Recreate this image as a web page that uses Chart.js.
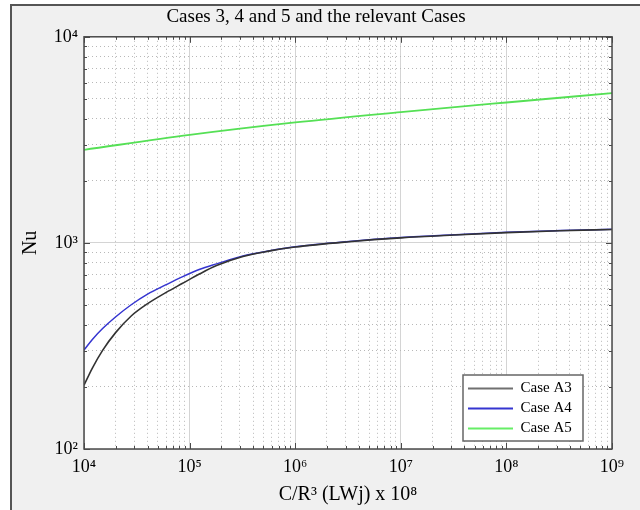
<!DOCTYPE html>
<html>
<head>
<meta charset="utf-8">
<script src="https://cdn.jsdelivr.net/npm/chart.js@4/dist/chart.umd.min.js"></script>
<style>
  body { margin: 0; background: #fff; }
</style>
</head>
<body>
<canvas id="nuChart" width="640" height="510"></canvas>
<script>
// x positions (C/R^3) shared by cases A3 and A4
const xA = [1e4, 1.2e4, 1.5e4, 2e4, 2.8e4, 4e4, 6e4, 8.5e4, 1.25e5, 1.8e5, 3.2e5, 5.6e5, 1e6, 3.2e6, 1e7, 3.2e7, 1e8, 3.2e8, 1e9]
const caseA3 = [204, 247, 301, 368, 442, 507, 575, 635, 708, 776, 859, 912, 955, 1013, 1058, 1092, 1122, 1145, 1162]
const caseA4 = [302, 340, 384, 438, 501, 564, 627, 684, 745, 791, 865, 914, 957, 1015, 1061, 1095, 1125, 1147, 1165]
// case A5 is almost straight on log-log axes
const xA5 = [1e4, 1e5, 1e6, 1e7, 1e8, 1e9]
const caseA5 = [2830, 3340, 3840, 4310, 4800, 5330]

const xDecades = [4, 5, 6, 7, 8, 9]
const xTickLabels = ["10⁴", "10⁵", "10⁶", "10⁷", "10⁸", "10⁹"]
const yDecades = [2, 3, 4]
const yTickLabels = ["10²", "10³", "10⁴"]

const FONT = "'Liberation Serif', 'Times New Roman', serif"

const pairs = (xs, ys) => xs.map((x, i) => ({ x: x, y: ys[i] }))

const isDecade = (v) => {
    const l = Math.log10(v)
    return Math.abs(l - Math.round(l)) < 1e-9
}

// 1..9 x 10^n ticks so every minor grid line is drawn
function logTicks(decades) {
    return function (scale) {
        const t = []
        for (let i = 0; i < decades.length - 1; i++) {
            for (let m = 1; m < 10; m++) t.push({ value: m * Math.pow(10, decades[i]) })
        }
        t.push({ value: Math.pow(10, decades[decades.length - 1]) })
        scale.ticks = t
    }
}

function tickLabel(decades, labels) {
    return function (value) {
        if (!isDecade(value)) return ""
        const i = decades.indexOf(Math.round(Math.log10(value)))
        return i >= 0 ? labels[i] : ""
    }
}

const gridColor = (ctx) => (ctx.tick && isDecade(ctx.tick.value) ? "#d4d4d4" : "#b8b8b8")
const gridDash = (ctx) => (ctx.tick && !isDecade(ctx.tick.value) ? [1, 3] : [])

const LEGEND_W = 120
const LEGEND_H = 66

const figure = {
    id: "figure",
    beforeDraw(chart) {
        const c = chart.ctx, a = chart.chartArea
        c.save()
        c.fillStyle = "#f0f0f0"
        c.fillRect(11, 5, chart.width - 11, chart.height - 5)
        c.strokeStyle = "#555"
        c.lineWidth = 2
        c.beginPath()
        c.moveTo(11, chart.height)
        c.lineTo(11, 5)
        c.lineTo(chart.width, 5)
        c.stroke()
        c.fillStyle = "#fff"
        c.fillRect(a.left, a.top, a.right - a.left, a.bottom - a.top)
        c.restore()
    },
    afterLayout(chart) {
        // move the legend box to the lower right corner of the plot
        const a = chart.chartArea, lg = chart.legend
        lg.left = a.right - 149
        lg.top = a.bottom - 73
        lg.right = lg.left + LEGEND_W
        lg.bottom = lg.top + LEGEND_H
        lg.width = LEGEND_W
        lg.height = LEGEND_H
    },
    afterDatasetsDraw(chart) {
        const c = chart.ctx, lg = chart.legend
        c.save()
        c.fillStyle = "#fff"
        c.fillRect(lg.left, lg.top - 1, LEGEND_W, LEGEND_H)
        c.strokeStyle = "#666"
        c.lineWidth = 1.5
        c.strokeRect(lg.left, lg.top - 1, LEGEND_W, LEGEND_H)
        c.restore()
        lg.draw()
    },
    afterDraw(chart) {
        const c = chart.ctx, a = chart.chartArea
        const xs = chart.scales.x, ys = chart.scales.y
        c.save()
        c.strokeStyle = "#4a4a4a"
        c.lineWidth = 1
        // inward tick marks on all four sides
        c.beginPath()
        xs.ticks.forEach((t) => {
            const px = Math.round(xs.getPixelForValue(t.value)) + 0.5
            const len = isDecade(t.value) ? 6 : 3
            c.moveTo(px, a.bottom); c.lineTo(px, a.bottom - len)
            c.moveTo(px, a.top); c.lineTo(px, a.top + len)
        })
        ys.ticks.forEach((t) => {
            const py = Math.round(ys.getPixelForValue(t.value)) + 0.5
            const len = isDecade(t.value) ? 6 : 3
            c.moveTo(a.left, py); c.lineTo(a.left + len, py)
            c.moveTo(a.right, py); c.lineTo(a.right - len, py)
        })
        c.stroke()
        c.lineWidth = 1.5
        c.strokeRect(a.left, a.top, a.right - a.left, a.bottom - a.top)
        c.restore()
    },
}

const data = {
    datasets: [
        {
            label: "Case A3",
            data: pairs(xA, caseA3),
            borderColor: "#333333",
            backgroundColor: "#707070",
            borderWidth: 1.6,
        },
        {
            label: "Case A4",
            data: pairs(xA, caseA4),
            borderColor: "#3535d0",
            backgroundColor: "#3535d0",
            borderWidth: 1.5,
        },
        {
            label: "Case A5",
            data: pairs(xA5, caseA5),
            borderColor: "#55e055",
            backgroundColor: "#66ee66",
            borderWidth: 1.8,
        },
    ],
}

const config = {
    type: "line",
    data: data,
    plugins: [figure],
    options: {
        responsive: false,
        animation: false,
        layout: { padding: { left: 20, right: 28, top: 0, bottom: 0 } },
        elements: {
            point: { radius: 0 },
            line: { cubicInterpolationMode: "monotone" },
        },
        plugins: {
            title: {
                display: true,
                text: "Cases 3, 4 and 5 and the relevant Cases",
                color: "#000",
                font: { family: FONT, size: 19, weight: "normal" },
                padding: { top: 6, bottom: 8 },
            },
            legend: {
                position: "chartArea",
                align: "start",
                labels: {
                    color: "#000",
                    font: { family: FONT, size: 15 },
                    boxWidth: 45,
                    boxHeight: 2,
                    padding: 5,
                    generateLabels: (chart) =>
                        Chart.defaults.plugins.legend.labels.generateLabels(chart).map((l) => ({ ...l, lineWidth: 0 })),
                },
            },
            tooltip: { enabled: false },
        },
        scales: {
            x: {
                type: "logarithmic",
                min: 1e4,
                max: 1e9,
                afterBuildTicks: logTicks(xDecades),
                afterFit: (s) => { s.height = 61 },
                border: { display: false, dash: gridDash },
                grid: { color: gridColor, lineWidth: 1, drawTicks: false },
                ticks: {
                    autoSkip: false,
                    maxRotation: 0,
                    padding: 7,
                    color: "#000",
                    font: { family: FONT, size: 18 },
                    callback: tickLabel(xDecades, xTickLabels),
                },
                title: {
                    display: true,
                    text: "C/R³ (LWj) x 10⁸",
                    color: "#000",
                    font: { family: FONT, size: 20 },
                    padding: { top: 0, bottom: 3 },
                },
            },
            y: {
                type: "logarithmic",
                min: 100,
                max: 10000,
                afterBuildTicks: logTicks(yDecades),
                afterFit: (s) => { s.width = 64 },
                border: { display: false, dash: gridDash },
                grid: { color: gridColor, lineWidth: 1, drawTicks: false },
                ticks: {
                    autoSkip: false,
                    padding: 6,
                    color: "#000",
                    font: { family: FONT, size: 18 },
                    callback: tickLabel(yDecades, yTickLabels),
                },
                title: {
                    display: true,
                    text: "Nu",
                    color: "#000",
                    font: { family: FONT, size: 20 },
                    padding: { top: -1, bottom: 0 },
                },
            },
        },
    },
}

var ctx = document.getElementById("nuChart").getContext("2d")
var nuChart = new Chart(ctx, config)
</script>
</body>
</html>
